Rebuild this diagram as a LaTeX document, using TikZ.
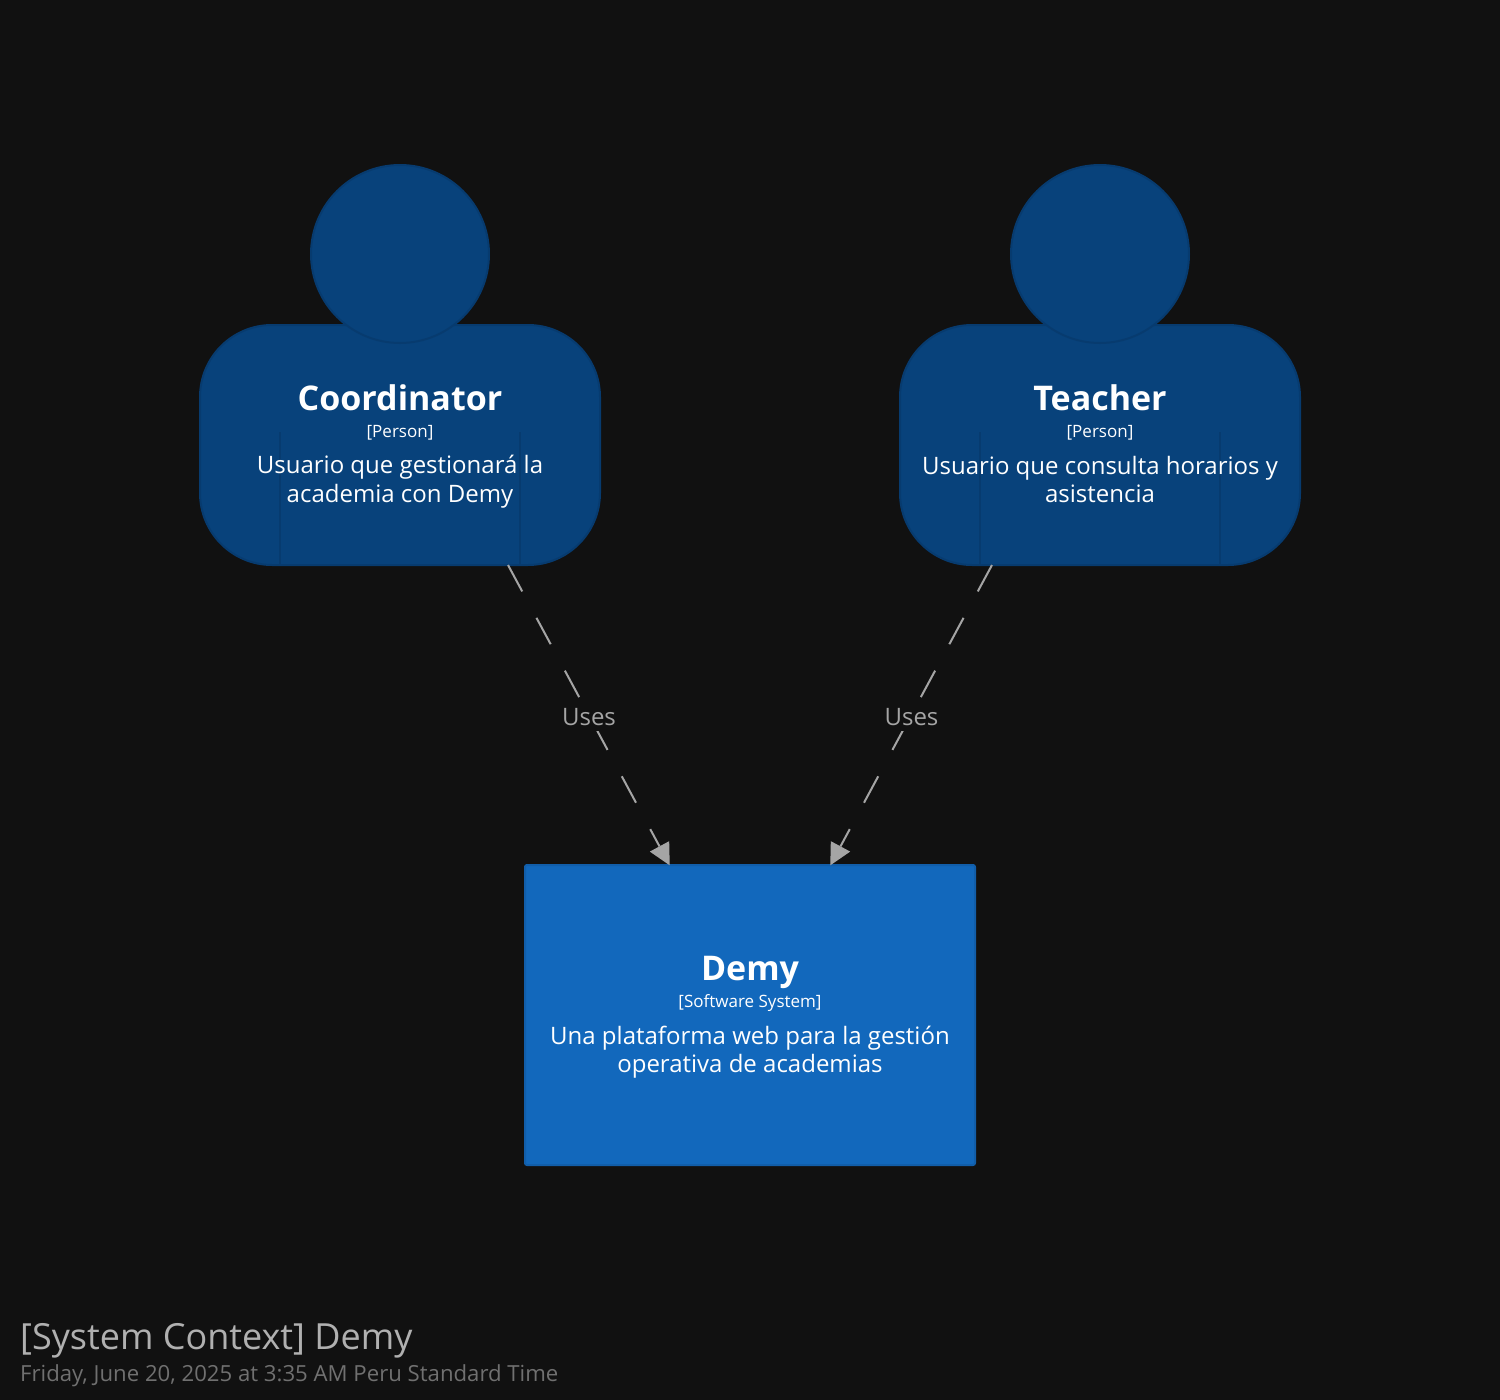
\documentclass[tikz,border=0pt]{standalone}
\usepackage{fontspec}
\setmainfont{Open Sans}
\usetikzlibrary{arrows.meta}
\definecolor{bgc}{HTML}{111111}
\definecolor{personfill}{HTML}{08427B}
\definecolor{personline}{HTML}{073B6F}
\definecolor{sysfill}{HTML}{1268BC}
\definecolor{sysline}{HTML}{115EAA}
\definecolor{relc}{HTML}{A5A5A5}
\definecolor{titlec}{HTML}{B0B0B0}
\definecolor{subc}{HTML}{707070}
\tikzset{
  x=1pt,y=-1pt,
  body/.style={draw=personline,fill=personfill,line width=2pt,rounded corners=72pt,minimum width=400pt,minimum height=240pt,inner sep=0pt},
  headshape/.style={circle,draw=personline,fill=personfill,line width=2pt,minimum size=178pt,inner sep=0pt},
  sysbox/.style={draw=sysline,fill=sysfill,line width=2pt,rounded corners=2pt,minimum width=450pt,minimum height=300pt,inner sep=0pt},
  inner/.style={draw=personline,line width=2pt},
  nametxt/.style={text=white,anchor=base,inner sep=0pt,font=\fontsize{34}{38}\selectfont\bfseries},
  typetxt/.style={text=white,anchor=base,inner sep=0pt,font=\fontsize{17}{20}\selectfont},
  desctxt/.style={text=white,anchor=center,inner sep=0pt,align=center,font=\fontsize{24}{28.5}\selectfont},
  rel/.style={draw=relc,line width=2pt,dash pattern=on 30pt off 30pt,-{Triangle[length=21.5pt,width=22pt,line width=0pt,fill=relc]}},
  rellabel/.style={text=relc,fill=bgc,inner xsep=2pt,inner ysep=5pt,font=\fontsize{24}{28}\selectfont},
  titletxt/.style={text=titlec,anchor=base west,inner sep=0pt,font=\fontsize{36}{40}\selectfont},
  subtxt/.style={text=subc,anchor=base west,inner sep=0pt,font=\fontsize{22.17}{26}\selectfont},
}
\begin{document}
\begin{tikzpicture}
\fill[bgc] (0,0) rectangle (1500,1400);
\useasboundingbox (0,0) rectangle (1500,1400);
% Coordinator
\node[body] (cbody) at (400,445) {};
\draw[inner] (280,432) -- (280,565);
\draw[inner] (520,432) -- (520,565);
\node[headshape] (chead) at (400,254) {};
\node[nametxt] (cname) at (400,410) {Coordinator};
\node[typetxt] (ctype) at (400,437) {[Person]};
\node[desctxt] (cdesc) at (400,481.5) {Usuario que gestionará la\\academia con Demy};
% Teacher
\node[body] (tbody) at (1100,445) {};
\draw[inner] (980,432) -- (980,565);
\draw[inner] (1220,432) -- (1220,565);
\node[headshape] (thead) at (1100,254) {};
\node[nametxt] (tname) at (1100,410) {Teacher};
\node[typetxt] (ttype) at (1100,437) {[Person]};
\node[desctxt] (tdesc) at (1100,479.5) {Usuario que consulta horarios y\\asistencia};
% Demy
\node[sysbox] (demy) at (750,1015) {};
\node[nametxt] (dname) at (750,980) {Demy};
\node[typetxt] (dtype) at (750,1007.7) {[Software System]};
\node[desctxt] (ddesc) at (750,1052) {Una plataforma web para la gestión\\operativa de academias};
% connectors
\coordinate (cout) at (508,565);
\coordinate (tout) at (992,565);
\coordinate (din1) at (669.7,865.3);
\coordinate (din2) at (830.3,865.3);
\draw[rel] (cout) -- (din1);
\draw[rel] (tout) -- (din2);
\node[rellabel] (l1) at (589,717) {Uses};
\node[rellabel] (l2) at (911.5,717) {Uses};
% title
\node[titletxt] (title) at (20,1349) {[System Context] Demy};
\node[subtxt] (sub) at (20,1381) {Friday, June 20, 2025 at 3:35 AM Peru Standard Time};
\end{tikzpicture}
\end{document}
